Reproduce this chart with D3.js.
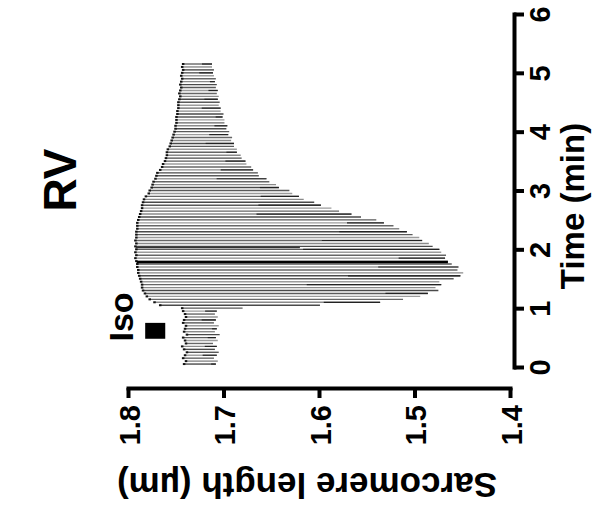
<!DOCTYPE html>
<html>
<head>
<meta charset="utf-8">
<script src="https://cdn.jsdelivr.net/npm/d3@7"></script>
<style>
  html, body { margin: 0; padding: 0; background: #fff; }
  svg { display: block; }
  text { font-family: "Liberation Sans", Arial, Helvetica, sans-serif; font-weight: bold; fill: #000; }
</style>
</head>
<body>
<svg id="chart" width="609" height="510"></svg>
<script>
// ---- data ----
const beatTime = [0.05,0.10,0.15,0.20,0.25,0.30,0.35,0.40,0.45,0.50,0.55,0.60,0.65,0.70,0.75,0.80,0.85,0.90,0.95,1.00,
  1.05,1.10,1.15,1.20,1.25,1.30,1.35,1.40,1.45,1.50,1.55,1.60,1.65,1.70,1.75,1.80,1.85,1.90,1.95,2.00,
  2.05,2.10,2.15,2.20,2.25,2.30,2.35,2.40,2.45,2.50,2.55,2.60,2.65,2.70,2.75,2.80,2.85,2.90,2.95,3.00,
  3.05,3.10,3.15,3.20,3.25,3.30,3.35,3.40,3.45,3.50,3.55,3.60,3.65,3.70,3.75,3.80,3.85,3.90,3.95,4.00,
  4.05,4.10,4.15,4.20,4.25,4.30,4.35,4.40,4.45,4.50,4.55,4.60,4.65,4.70,4.75,4.80,4.85,4.90,4.95,5.00,
  5.05,5.10,5.15];
const diastolicSL = [1.741,1.739,1.742,1.740,1.738,1.741,1.743,1.739,1.740,1.742,1.738,1.741,1.740,1.739,1.742,1.741,1.739,1.740,1.742,1.743,
  1.766,1.772,1.777,1.780,1.782,1.784,1.785,1.785,1.786,1.787,1.788,1.789,1.789,1.790,1.790,1.791,1.792,1.791,1.792,1.791,
  1.792,1.791,1.792,1.791,1.791,1.791,1.790,1.790,1.790,1.789,1.788,1.787,1.786,1.785,1.785,1.784,1.783,1.781,1.778,1.777,
  1.775,1.774,1.773,1.771,1.770,1.769,1.766,1.764,1.763,1.761,1.760,1.759,1.759,1.758,1.756,1.755,1.754,1.753,1.752,1.751,
  1.750,1.750,1.749,1.749,1.749,1.748,1.748,1.747,1.747,1.747,1.746,1.745,1.746,1.745,1.744,1.745,1.744,1.743,1.744,1.743,
  1.742,1.743,1.742];
const systolicSL = [1.708,1.706,1.710,1.707,1.705,1.709,1.707,1.711,1.706,1.708,1.704,1.709,1.707,1.705,1.710,1.708,1.706,1.709,1.707,1.680,
  1.599,1.536,1.512,1.494,1.486,1.475,1.478,1.472,1.474,1.459,1.452,1.449,1.455,1.454,1.461,1.465,1.468,1.467,1.472,1.474,
  1.481,1.485,1.492,1.495,1.502,1.508,1.516,1.522,1.532,1.540,1.556,1.566,1.579,1.587,1.598,1.605,1.616,1.621,1.628,1.631,
  1.642,1.645,1.652,1.655,1.663,1.664,1.669,1.671,1.676,1.677,1.681,1.682,1.686,1.686,1.689,1.689,1.692,1.691,1.695,1.694,
  1.697,1.696,1.699,1.699,1.701,1.700,1.703,1.703,1.705,1.704,1.706,1.705,1.707,1.706,1.708,1.707,1.709,1.708,1.710,1.711,
  1.710,1.712,1.712];
const slTicks = [1.8, 1.7, 1.6, 1.5, 1.4];
const timeTicks = [0, 1, 2, 3, 4, 5, 6];
const isoStart = 0.48, isoEnd = 0.75;   // Iso bar along time axis
const isoSL = [1.782, 1.761];           // bar extent along SL axis

// ---- chart ----
const svg = d3.select("#chart");
const x = d3.scaleLinear().domain([1.8, 1.4]).range([128, 510]);
const y = d3.scaleLinear().domain([0, 6]).range([367, 14]);

const beats = beatTime.map((t, i) => ({ t, d: diastolicSL[i], s: systolicSL[i], i }));
const shades = ["#4a4a4a", "#8a8a8a", "#666", "#9c9c9c", "#5a5a5a"];

const trace = svg.append("g");
trace.selectAll("line.beat").data(beats).join("line")
  .attr("class", "beat")
  .attr("x1", b => x(b.d)).attr("x2", b => x(b.s))
  .attr("y1", b => y(b.t)).attr("y2", b => y(b.t))
  .attr("stroke", b => shades[b.i % shades.length])
  .attr("stroke-width", 1.4);
// darker tail at the shortening end on some beats
trace.selectAll("line.tail").data(beats.filter(b => b.i % 3 === 0)).join("line")
  .attr("class", "tail")
  .attr("x1", b => x(b.s) - (x(b.s) - x(b.d)) * (0.15 + 0.1 * (b.i % 4))).attr("x2", b => x(b.s))
  .attr("y1", b => y(b.t)).attr("y2", b => y(b.t))
  .attr("stroke", "#222")
  .attr("stroke-width", 1.2);
// dots on the resting edge
trace.selectAll("rect.rest").data(beats).join("rect")
  .attr("class", "rest")
  .attr("x", b => x(b.d) - 1.5).attr("y", b => y(b.t) - 1)
  .attr("width", 2.5).attr("height", 2)
  .attr("fill", "#111");
// prominent dark traces
trace.selectAll("line.dark").data(beats.filter(b => b.t === 1.80 || b.t === 2.05)).join("line")
  .attr("class", "dark")
  .attr("x1", b => x(b.d)).attr("x2", b => b.t === 1.80 ? x(b.s) : x(1.62))
  .attr("y1", b => y(b.t) + 1).attr("y2", b => y(b.t) + 1)
  .attr("stroke", b => b.t === 1.80 ? "#000" : "#333")
  .attr("stroke-width", b => b.t === 1.80 ? 2.2 : 1.5);

// axes
const xAxis = svg.append("g").attr("transform", "translate(0,388)")
  .call(d3.axisBottom(x).tickValues(slTicks).tickFormat(d3.format(".1f")).tickSize(10).tickSizeOuter(0));
xAxis.select(".domain").attr("stroke-width", 4).attr("stroke-linecap", "square");
xAxis.selectAll(".tick line").attr("stroke-width", 4);
xAxis.selectAll(".tick text")
  .attr("transform", "rotate(-90)")
  .attr("x", -17).attr("y", 11).attr("dy", null)
  .attr("text-anchor", "end")
  .style("font-size", "29px").style("font-family", "Liberation Sans, Arial, sans-serif").style("font-weight", "bold");

const yAxis = svg.append("g").attr("transform", "translate(514,0)")
  .call(d3.axisRight(y).tickValues(timeTicks).tickFormat(d3.format("d")).tickSize(10).tickSizeOuter(0));
yAxis.select(".domain").attr("stroke-width", 4).attr("stroke-linecap", "square");
yAxis.selectAll(".tick line").attr("stroke-width", 4);
yAxis.selectAll(".tick text")
  .attr("transform", "rotate(-90)")
  .attr("x", 0).attr("y", 36).attr("dy", null)
  .attr("text-anchor", "middle")
  .style("font-size", "29px").style("font-family", "Liberation Sans, Arial, sans-serif").style("font-weight", "bold");

// titles
svg.append("text")
  .attr("transform", "translate(307,473) rotate(180)")
  .attr("text-anchor", "middle")
  .style("font-size", "35px")
  .text("Sarcomere length (µm)");
svg.append("text")
  .attr("transform", "translate(584,206) rotate(-90)")
  .attr("text-anchor", "middle")
  .style("font-size", "33px")
  .text("Time (min)");
svg.append("text")
  .attr("transform", "translate(76,180) rotate(-90)")
  .attr("text-anchor", "middle")
  .style("font-size", "46px")
  .text("RV");
svg.append("text")
  .attr("transform", "translate(133,317) rotate(-90)")
  .attr("text-anchor", "middle")
  .style("font-size", "34px")
  .text("Iso");
svg.append("rect")
  .attr("x", x(isoSL[0])).attr("width", x(isoSL[1]) - x(isoSL[0]))
  .attr("y", y(isoEnd)).attr("height", y(isoStart) - y(isoEnd))
  .attr("fill", "#000");
</script>
</body>
</html>
